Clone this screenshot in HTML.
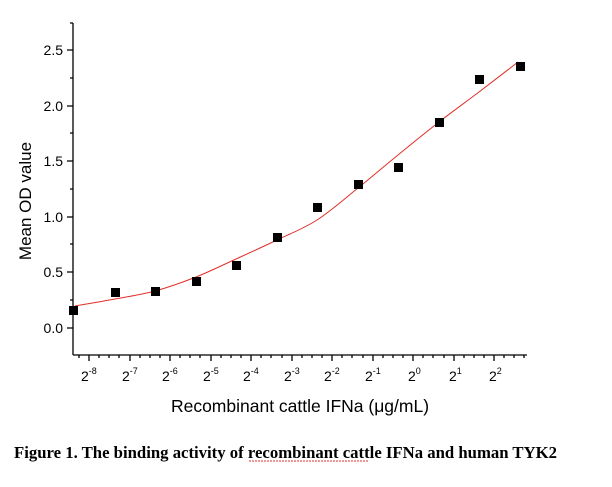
<!DOCTYPE html><html><head><style>body{margin:0;background:#fff}svg{display:block}</style></head><body>
<svg width="612" height="487" xmlns="http://www.w3.org/2000/svg" font-family="Liberation Sans, Arial, sans-serif">
<g stroke="#000" stroke-width="1.3" fill="none">
<line x1="73" y1="23" x2="73" y2="355"/>
<line x1="73" y1="355" x2="527" y2="355"/>
<path d="M73 50h-6M73 106h-6M73 161h-6M73 217h-6M73 272h-6M73 328h-6M73 78h-3M73 133h-3M73 189h-3M73 244h-3M73 300h-3M73 23h-3"/>
<path d="M89 355v6M130 355v6M170 355v6M211 355v6M251 355v6M292 355v6M332 355v6M373 355v6M413 355v6M454 355v6M494 355v6"/>
<path d="M79 355v3M99 355v3M109 355v3M119 355v3M140 355v3M150 355v3M160 355v3M180 355v3M190 355v3M200 355v3M221 355v3M231 355v3M241 355v3M261 355v3M271 355v3M282 355v3M302 355v3M312 355v3M322 355v3M342 355v3M352 355v3M363 355v3M383 355v3M393 355v3M403 355v3M423 355v3M433 355v3M444 355v3M464 355v3M474 355v3M484 355v3M504 355v3M514 355v3M524 355v3"/>
</g>
<g font-size="14" text-anchor="end" fill="#000">
<text x="63" y="55">2.5</text><text x="63" y="111">2.0</text><text x="63" y="166">1.5</text><text x="63" y="222">1.0</text><text x="63" y="277">0.5</text><text x="63" y="333">0.0</text>
</g>
<g font-size="14" fill="#000">
<text x="81" y="381">2<tspan font-size="9" dy="-7">-8</tspan></text>
<text x="122" y="381">2<tspan font-size="9" dy="-7">-7</tspan></text>
<text x="162" y="381">2<tspan font-size="9" dy="-7">-6</tspan></text>
<text x="203" y="381">2<tspan font-size="9" dy="-7">-5</tspan></text>
<text x="243" y="381">2<tspan font-size="9" dy="-7">-4</tspan></text>
<text x="284" y="381">2<tspan font-size="9" dy="-7">-3</tspan></text>
<text x="324" y="381">2<tspan font-size="9" dy="-7">-2</tspan></text>
<text x="365" y="381">2<tspan font-size="9" dy="-7">-1</tspan></text>
<text x="408" y="381">2<tspan font-size="9" dy="-7">0</tspan></text>
<text x="449" y="381">2<tspan font-size="9" dy="-7">1</tspan></text>
<text x="489" y="381">2<tspan font-size="9" dy="-7">2</tspan></text>
</g>
<text x="300" y="412" font-size="17.5" text-anchor="middle">Recombinant cattle IFNa (μg/mL)</text>
<text transform="translate(31,201) rotate(-90)" font-size="17" text-anchor="middle">Mean OD value</text>
<path id="curve" d="M75 306 L518 62" fill="none" stroke="#e0302a" stroke-width="1"/>
<g fill="#000">
<rect x="69" y="306" width="9" height="9"/><rect x="111" y="288" width="9" height="9"/><rect x="151" y="287" width="9" height="9"/><rect x="192" y="277" width="9" height="9"/><rect x="232" y="261" width="9" height="9"/><rect x="273" y="233" width="9" height="9"/><rect x="313" y="203" width="9" height="9"/><rect x="354" y="180" width="9" height="9"/><rect x="394" y="163" width="9" height="9"/><rect x="435" y="118" width="9" height="9"/><rect x="475" y="75" width="9" height="9"/><rect x="516" y="62" width="9" height="9"/>
</g>
<line x1="249" y1="461" x2="368" y2="461" stroke="#e03030" stroke-width="1" stroke-dasharray="2 1"/>
<text x="14" y="458" font-family="Liberation Serif, serif" font-weight="bold" font-size="17" textLength="543" lengthAdjust="spacingAndGlyphs">Figure 1. The binding activity of recombinant cattle IFNa and human TYK2</text>
</svg>
<script>
var p=[[75,306],[115,299],[155,291],[196,277],[236,259],[277,240],[317,220],[358,188],[398,155],[439,122],[479,92],[518,62]];
var d="M"+p[0][0]+" "+p[0][1];
for(var i=0;i<p.length-1;i++){var a=p[Math.max(i-1,0)],b=p[i],c=p[i+1],e=p[Math.min(i+2,p.length-1)];
d+=" C"+(b[0]+(c[0]-a[0])/6)+" "+(b[1]+(c[1]-a[1])/6)+","+(c[0]-(e[0]-b[0])/6)+" "+(c[1]-(e[1]-b[1])/6)+","+c[0]+" "+c[1];}
document.getElementById("curve").setAttribute("d",d);
</script>
</body></html>
